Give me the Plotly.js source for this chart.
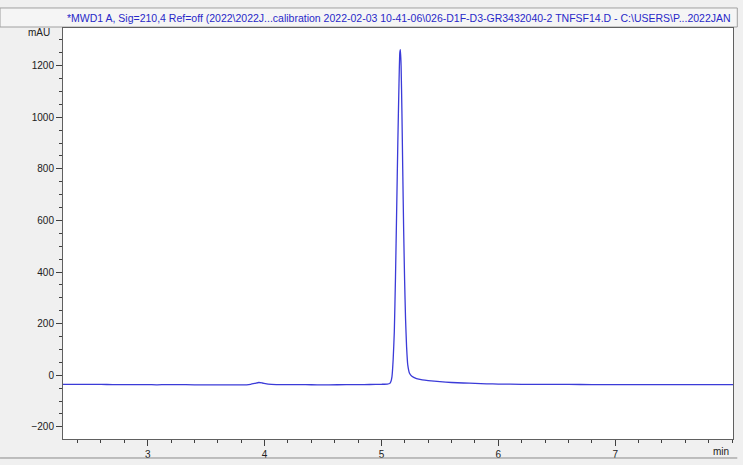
<!DOCTYPE html>
<html>
<head>
<meta charset="utf-8">
<script src="https://cdn.plot.ly/plotly-3.0.1.min.js"></script>
<style>
  html, body { margin: 0; padding: 0; background: #f0f0f0; }
  #grafico { width: 743px; height: 465px; }
</style>
</head>
<body>
<div id="grafico"></div>
<script>
const tempos = [
  2.275, 2.4, 2.5, 2.6, 2.7, 2.8, 2.9, 3.0, 3.08, 3.15, 3.25, 3.4, 3.55, 3.7, 3.8,
  3.88, 3.92, 3.95, 3.98, 4.03, 4.1, 4.2, 4.35, 4.45, 4.55, 4.7, 4.85, 4.95,
  5.0, 5.05, 5.07, 5.08, 5.09, 5.1, 5.11, 5.12, 5.13, 5.14, 5.15, 5.157, 5.162,
  5.168, 5.175, 5.182, 5.19, 5.198, 5.206, 5.215, 5.225, 5.24, 5.26, 5.3, 5.35,
  5.4, 5.5, 5.6, 5.7, 5.8, 5.9, 6.0, 6.2, 6.4, 6.6, 6.8, 7.0, 7.2, 7.4, 7.6, 7.8, 8.008
];
const sinal = [
  -35, -35, -35, -35.5, -36, -36, -36, -36, -37, -36, -36, -37, -37, -37, -37.5,
  -35, -31, -28, -30, -34, -36, -36, -36.5, -37, -37, -36.5, -36, -35.5,
  -35, -34, -32, -25, -5, 60, 170, 380, 640, 900, 1130, 1250, 1262,
  1200, 1020, 800, 560, 370, 220, 110, 40, 8, -4, -13, -18,
  -21, -25, -28, -30, -31.5, -33, -34, -35, -35.5, -35.5, -36, -36, -36.5, -36.5, -36, -36, -36
];

// Rótulos dos eixos
const ticksY = [-200, 0, 200, 400, 600, 800, 1000, 1200];
const ticksX = [3, 4, 5, 6, 7];

const titulo = '*MWD1 A, Sig=210,4 Ref=off (2022\\2022J...calibration 2022-02-03 10-41-06\\026-D1F-D3-GR3432040-2 TNFSF14.D - C:\\USERS\\P...2022JAN';

const fonte = 'Liberation Sans, Arial, sans-serif';

const dados = [
  {
    x: tempos,
    y: sinal,
    type: 'scatter',
    mode: 'lines',
    line: { color: '#3b3bd8', width: 1.3, shape: 'spline', smoothing: 0.4 },
    hoverinfo: 'x+y'
  }
];

const layout = {
  width: 743,
  height: 465,
  margin: { l: 63, r: 10, t: 28, b: 26 },
  paper_bgcolor: '#f0f0f0',
  plot_bgcolor: '#ffffff',
  showlegend: false,
  font: { family: fonte, size: 10, color: '#202020' },
  xaxis: {
    range: [2.275, 8.008],
    tickvals: ticksX,
    ticks: 'outside',
    ticklen: 6,
    tickcolor: '#404040',
    showgrid: false,
    zeroline: false,
    showline: true,
    linecolor: '#606060',
    mirror: true,
    minor: { dtick: 0.2, tick0: 0, ticks: 'outside', ticklen: 3, tickcolor: '#404040' },
    tickfont: { family: fonte, size: 10, color: '#202020' }
  },
  yaxis: {
    range: [-247, 1346],
    tickvals: ticksY,
    ticks: 'outside',
    ticklen: 6,
    tickcolor: '#404040',
    showgrid: false,
    zeroline: false,
    showline: true,
    linecolor: '#606060',
    mirror: true,
    minor: { dtick: 50, tick0: 0, ticks: 'outside', ticklen: 3, tickcolor: '#404040' },
    tickfont: { family: fonte, size: 10, color: '#202020' }
  },
  shapes: [
    // barra do título
    {
      type: 'rect', xref: 'paper', yref: 'paper',
      x0: -0.094, x1: 1.0064, y0: 1.0024, y1: 1.0487,
      fillcolor: '#f5f5f5', line: { color: '#a0a0a0', width: 1 }, layer: 'below'
    },
    // linha de baixo
    {
      type: 'line', xref: 'paper', yref: 'paper',
      x0: -0.094, x1: 1.0064, y0: -0.0462, y1: -0.0462,
      line: { color: '#8a8a8a', width: 1 }
    }
  ],
  annotations: [
    {
      text: titulo, xref: 'paper', yref: 'paper',
      x: 1.0, y: 1.0255, xanchor: 'right', yanchor: 'middle',
      showarrow: false, font: { family: fonte, size: 10.5, color: '#2828c8' }
    },
    {
      text: 'mAU', xref: 'paper', yref: 'paper',
      x: -0.0165, y: 0.99, xanchor: 'right', yanchor: 'middle',
      showarrow: false, font: { family: fonte, size: 10, color: '#202020' }
    },
    {
      text: 'min', xref: 'paper', yref: 'paper',
      x: 0.997, y: -0.03, xanchor: 'right', yanchor: 'middle',
      showarrow: false, font: { family: fonte, size: 10, color: '#202020' }
    }
  ]
};

Plotly.newPlot('grafico', dados, layout, { displayModeBar: false, staticPlot: true });
</script>
</body>
</html>
